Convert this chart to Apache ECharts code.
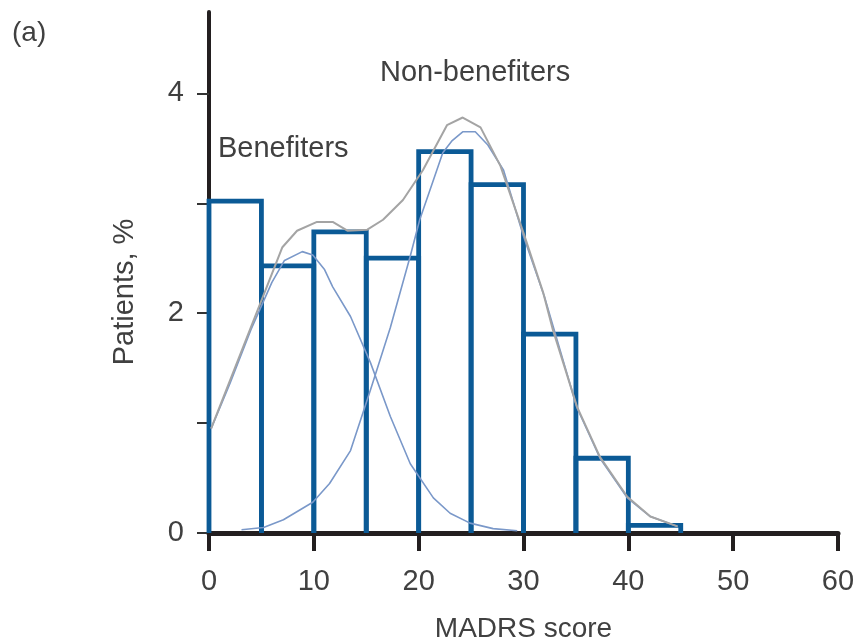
<!DOCTYPE html>
<html>
<head>
<meta charset="utf-8">
<script src="https://cdn.jsdelivr.net/npm/echarts@6/dist/echarts.min.js"></script>
<style>
html,body{margin:0;padding:0;background:#fff;}
#chart{width:860px;height:643px;}
</style>
</head>
<body>
<div id="chart"></div>
<script>
// Histogram bins (MADRS score) and heights (% of patients)
var binStart = [0, 5, 10, 15, 20, 25, 30, 35, 40];
var binEnd   = [5, 10, 15, 20, 25, 30, 35, 40, 45];
var binValue = [3.02, 2.43, 2.74, 2.50, 3.47, 3.17, 1.81, 0.68, 0.07];

// Benefiters fitted curve
var benX = [0.2, 2, 4, 6, 7.2, 8.9, 9.9, 11, 11.8, 13.5, 15.4, 17.3, 19.2, 21.4, 23, 24.9, 27.1, 29.4];
var benY = [0.95, 1.36, 1.85, 2.28, 2.48, 2.56, 2.53, 2.40, 2.24, 1.97, 1.55, 1.06, 0.63, 0.32, 0.18, 0.09, 0.04, 0.02];

// Non-benefiters fitted curve
var nonX = [3.1, 5.2, 7.1, 9.9, 11.5, 13.5, 15.4, 17.3, 19.2, 20.1, 21.4, 22.3, 23.2, 24.2, 25.4, 26.6, 28.1, 30.0, 32.0, 35.1, 37.3, 39.9, 42.1, 44.7];
var nonY = [0.03, 0.05, 0.12, 0.28, 0.45, 0.75, 1.30, 1.87, 2.52, 2.85, 3.21, 3.46, 3.57, 3.65, 3.65, 3.53, 3.30, 2.70, 2.15, 1.14, 0.68, 0.32, 0.15, 0.06];

// Total (combined) curve
var totX = [0.2, 7.0, 8.4, 10.3, 11.8, 13.2, 15.1, 16.6, 18.5, 20.4, 22.7, 24.2, 25.9, 27.8, 30.0, 31.9, 32.8, 35.1, 37.3, 39.9, 42.1, 44.7];
var totY = [0.95, 2.60, 2.75, 2.83, 2.83, 2.75, 2.76, 2.85, 3.03, 3.30, 3.71, 3.78, 3.69, 3.34, 2.73, 2.18, 1.85, 1.15, 0.69, 0.33, 0.15, 0.06];

var xTicks = [0, 10, 20, 30, 40, 50, 60];
var yTicks = [0, 1, 2, 3, 4];
var yLabels = [0, 2, 4];

function pairs(xs, ys) { return xs.map(function (x, i) { return [x, ys[i]]; }); }
var histData = binStart.map(function (s, i) { return [s, binEnd[i], binValue[i]]; });

var FONT = '"Liberation Sans", Arial, sans-serif';
var TXT = '#404040';
var AX = '#231f20';
var BAR = '#0b5a96';
var CURVE = '#7a98c9';
var GRAY = '#a4a4a4';

var chart = echarts.init(document.getElementById('chart'), null, {renderer: 'canvas'});
chart.setOption({
  animation: false,
  backgroundColor: '#ffffff',
  grid: {left: 209, right: 22, top: 12, bottom: 110, containLabel: false, outerBoundsMode: 'none'},
  xAxis: {
    type: 'value', min: 0, max: 60, interval: 10,
    axisLine: {show: true, lineStyle: {color: AX, width: 5}},
    axisTick: {show: true, length: 18, lineStyle: {color: AX, width: 4}, customValues: xTicks},
    axisLabel: {fontSize: 29, fontFamily: FONT, color: TXT, margin: 34, customValues: xTicks},
    splitLine: {show: false},
    name: 'MADRS score', nameLocation: 'middle', nameGap: 82,
    nameTextStyle: {fontSize: 28, fontFamily: FONT, color: TXT}
  },
  yAxis: {
    type: 'value', min: 0, max: 4.74,
    axisLine: {show: true, lineStyle: {color: AX, width: 4}},
    axisTick: {show: true, length: 12, lineStyle: {color: '#333333', width: 2}, customValues: yTicks},
    axisLabel: {fontSize: 29, fontFamily: FONT, color: TXT, margin: 25, customValues: yLabels},
    splitLine: {show: false}
  },
  graphic: [
    {type: 'text', left: 12, top: 19, style: {text: '(a)', fontSize: 28, fontFamily: FONT, fill: TXT}},
    {type: 'text', left: 218, top: 134, style: {text: 'Benefiters', fontSize: 29, fontFamily: FONT, fill: TXT}},
    {type: 'text', left: 380, top: 58, style: {text: 'Non-benefiters', fontSize: 29, fontFamily: FONT, fill: TXT}},
    {type: 'text', x: 125, y: 292, rotation: Math.PI / 2,
      style: {text: 'Patients, %', fontSize: 29, fontFamily: FONT, fill: TXT, align: 'center', verticalAlign: 'middle'}}
  ],
  series: [
    {
      type: 'custom', z: 2,
      data: histData,
      renderItem: function (params, api) {
        var x0 = api.value(0), x1 = api.value(1), v = api.value(2);
        var pTopL = api.coord([x0, v]);
        var pBotR = api.coord([x1, 0]);
        return {
          type: 'polyline',
          shape: {points: [[pTopL[0], pBotR[1]], [pTopL[0], pTopL[1]], [pBotR[0], pTopL[1]], [pBotR[0], pBotR[1]]]},
          style: {fill: 'none', stroke: BAR, lineWidth: 4.8, lineJoin: 'miter'}
        };
      }
    },
    {type: 'line', z: 3, data: pairs(benX, benY), showSymbol: false, smooth: false,
      lineStyle: {color: CURVE, width: 1.6}},
    {type: 'line', z: 3, data: pairs(nonX, nonY), showSymbol: false, smooth: false,
      lineStyle: {color: CURVE, width: 1.6}},
    {type: 'line', z: 4, data: pairs(totX, totY), showSymbol: false, smooth: false,
      lineStyle: {color: GRAY, width: 2}}
  ]
});
</script>
</body>
</html>
